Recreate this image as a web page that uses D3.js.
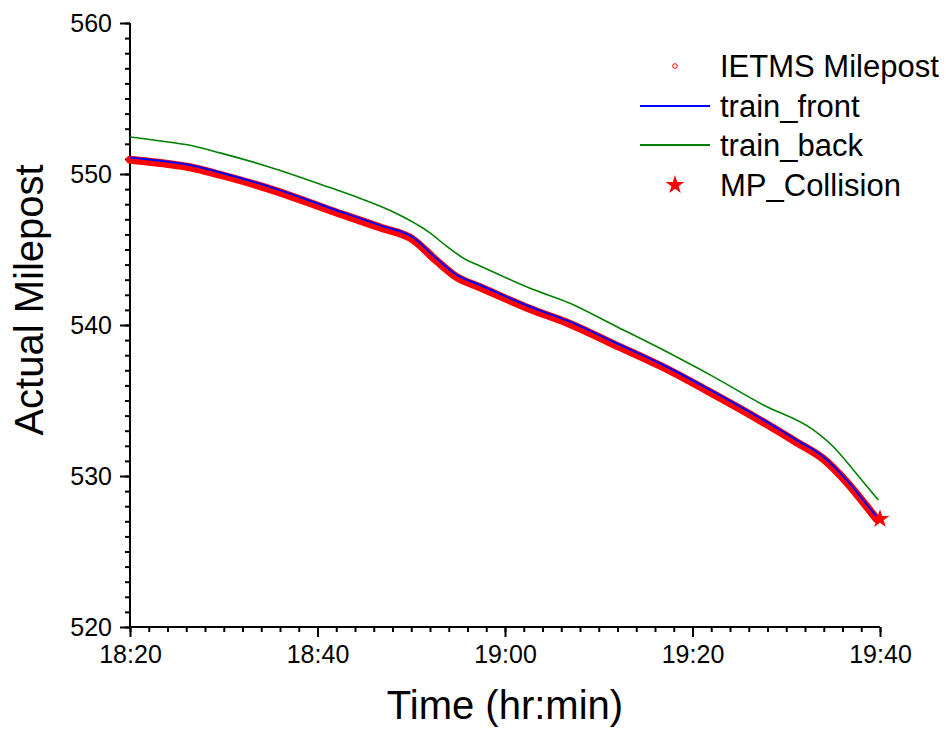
<!DOCTYPE html>
<html>
<head>
<meta charset="utf-8">
<script src="https://cdn.jsdelivr.net/npm/d3@7"></script>
<style>
html,body{margin:0;padding:0;background:#fff;}
text{font-family:"Liberation Sans",Arial,sans-serif;fill:#000;}
</style>
</head>
<body>
<svg id="chart" width="946" height="731"></svg>
<script>
// Time in minutes after 18:20
const xTickLabels = ["18:20","18:40","19:00","19:20","19:40"];
const xTickValues = [0,20,40,60,80];
const yTickValues = [520,530,540,550,560];

const frontTime = [0, 4.27, 6.4, 9.6, 14.93, 21.33, 26.7, 30.2, 32.7, 34.9, 37.33, 42.67, 46.93, 51.56, 56.89, 62.22, 67.56, 71.11, 73.96, 76.44, 78.22, 79.64];
const frontMP   = [551.1, 550.8, 550.6, 550.1, 549.15, 547.75, 546.6, 545.8, 544.4, 543.3, 542.65, 541.21, 540.22, 538.89, 537.35, 535.58, 533.71, 532.38, 531.28, 529.74, 528.41, 527.3];

const ietmsTime = [0, 4.27, 6.4, 9.6, 14.93, 21.33, 26.7, 30.2, 32.7, 34.9, 37.33, 42.67, 46.93, 51.56, 56.89, 62.22, 67.56, 71.11, 73.96, 76.44, 78.22, 79.64];
const ietmsMP   = [550.95, 550.65, 550.45, 549.95, 549.0, 547.6, 546.45, 545.65, 544.25, 543.15, 542.5, 541.06, 540.07, 538.74, 537.2, 535.43, 533.56, 532.23, 531.13, 529.59, 528.26, 527.15];

const backTime = [0, 4.27, 6.4, 9.6, 14.93, 21.33, 24.5, 27.7, 32.0, 33.8, 35.9, 37.33, 42.67, 46.93, 51.56, 56.89, 62.22, 67.56, 72.89, 75.02, 77.16, 78.93, 79.82];
const backMP   = [552.45, 552.1, 551.9, 551.4, 550.45, 549.1, 548.4, 547.6, 546.1, 545.2, 544.3, 543.91, 542.43, 541.44, 540.0, 538.34, 536.58, 534.7, 533.05, 531.94, 530.4, 529.07, 528.41];

const collisionTime = [80];
const collisionMP = [527.15];

const legendLabels = ["IETMS Milepost","train_front","train_back","MP_Collision"];

const svg = d3.select("#chart");
const x = d3.scaleLinear().domain([0,80]).range([130,880]);
const y = d3.scaleLinear().domain([520,560]).range([627,23]);

// Axes
const xAxisMinor = d3.axisBottom(x).tickValues(d3.range(0,81,2)).tickSize(5).tickFormat("");
const yAxisMinor = d3.axisLeft(y).tickValues(d3.range(520,561,1)).tickSize(5).tickFormat("");
const xAxis = d3.axisBottom(x).tickValues(xTickValues).tickSize(10).tickPadding(8)
  .tickFormat((d,i)=>xTickLabels[i]);
const yAxis = d3.axisLeft(y).tickValues(yTickValues).tickSize(10).tickPadding(8);

function styleAxis(g){
  g.selectAll("path").attr("stroke","#000").attr("stroke-width",2);
  g.selectAll("line").attr("stroke","#000").attr("stroke-width",2);
  g.selectAll("text").style("font-size","25px").style("font-family","'Liberation Sans',Arial,sans-serif");
}
svg.append("g").attr("transform","translate(0,627)").call(xAxisMinor).call(styleAxis).select(".domain").remove();
svg.append("g").attr("transform","translate(130,0)").call(yAxisMinor).call(styleAxis).select(".domain").remove();
svg.append("g").attr("transform","translate(0,627)").call(xAxis).call(styleAxis)
  .select(".domain").attr("d","M130,0H880");
svg.append("g").attr("transform","translate(130,0)").call(yAxis).call(styleAxis)
  .select(".domain").attr("d","M0,627V23");

// Lines
const mk = (tArr, vArr) => tArr.map((t,i)=>({t, v:vArr[i]}));
const line = d3.line().x(d=>x(d.t)).y(d=>y(d.v)).curve(d3.curveMonotoneX);

// IETMS milepost: dense red circle markers form a band
svg.append("path").datum(mk(ietmsTime, ietmsMP))
  .attr("d", line).attr("fill","none").attr("stroke","#ff0000").attr("stroke-width",8).attr("stroke-linecap","round");

svg.append("path").datum(mk(backTime, backMP))
  .attr("d", line).attr("fill","none").attr("stroke","#008000").attr("stroke-width",1.6);

svg.append("path").datum(mk(frontTime, frontMP))
  .attr("d", line).attr("fill","none").attr("stroke","#0000ff").attr("stroke-width",2);

const star = d3.symbol().type(d3.symbolStar).size(110);
svg.selectAll(".coll").data(mk(collisionTime, collisionMP)).enter().append("path")
  .attr("d", star).attr("transform", d=>`translate(${x(d.t)},${y(d.v)})`).attr("fill","#ff0000");

// Axis titles
svg.append("text").attr("x",505).attr("y",719).attr("text-anchor","middle")
  .style("font-size","40px").text("Time (hr:min)");
svg.append("text").attr("transform","translate(43,300) rotate(-90)").attr("text-anchor","middle")
  .style("font-size","40px").text("Actual Milepost");

// Legend
const lg = svg.append("g");
const rowY = [66, 106, 145, 185];
lg.append("circle").attr("cx",675).attr("cy",rowY[0]).attr("r",2.3).attr("fill","none").attr("stroke","#ff0000").attr("stroke-width",1);
lg.append("line").attr("x1",640).attr("x2",710).attr("y1",rowY[1]).attr("y2",rowY[1]).attr("stroke","#0000ff").attr("stroke-width",2);
lg.append("line").attr("x1",640).attr("x2",710).attr("y1",rowY[2]).attr("y2",rowY[2]).attr("stroke","#008000").attr("stroke-width",2);
lg.append("path").attr("d", star).attr("transform",`translate(675,${rowY[3]})`).attr("fill","#ff0000");
legendLabels.forEach((t,i)=>{
  lg.append("text").attr("x",720).attr("y",rowY[i]+11).style("font-size","31px").text(t);
});
</script>
</body>
</html>
